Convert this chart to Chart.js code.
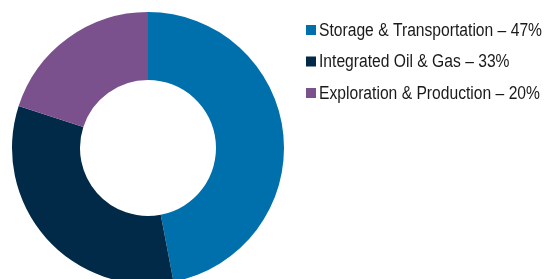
<!DOCTYPE html>
<html>
<head>
<meta charset="utf-8">
<script src="https://cdn.jsdelivr.net/npm/chart.js@4/dist/chart.umd.min.js"></script>
<style>
  html, body { margin: 0; padding: 0; background: #fff; overflow: hidden; }
  #wrap { position: relative; width: 548px; height: 296px; }
</style>
</head>
<body>
<div id="wrap"><canvas id="c" width="548" height="296"></canvas></div>
<script>
const categories = ["Storage & Transportation", "Integrated Oil & Gas", "Exploration & Production"];
const shares = [47, 33, 20];
const colors = ["#0070ad", "#002a47", "#7b518d"];

const legendPlugin = {
  id: 'sideLegend',
  afterDraw(chart) {
    const ctx = chart.ctx;
    ctx.save();
    ctx.font = '18px "Liberation Sans", Arial, sans-serif';
    ctx.textBaseline = 'middle';
    ctx.textAlign = 'left';
    const x0 = 306, y0 = 30, step = 31.5, box = 10;
    const texts = categories.map((c, i) => c + ' \u2013 ' + shares[i] + '%');
    const sx = 223 / ctx.measureText(texts[0]).width;
    texts.forEach((t, i) => {
      const cy = y0 + i * step;
      ctx.fillStyle = colors[i];
      ctx.fillRect(x0, cy - box / 2, box, box);
      ctx.fillStyle = '#1a1a1a';
      ctx.save();
      ctx.translate(x0 + box + 3, cy + 1);
      ctx.scale(sx, 1);
      ctx.fillText(t, 0, 0);
      ctx.restore();
    });
    ctx.restore();
  }
};

new Chart(document.getElementById('c'), {
  type: 'doughnut',
  data: {
    labels: categories,
    datasets: [{
      data: shares,
      backgroundColor: colors,
      borderWidth: 0,
      hoverOffset: 0
    }]
  },
  options: {
    responsive: false,
    animation: false,
    cutout: '50%',
    layout: { padding: { left: 12, top: 12, right: 264, bottom: 12 } },
    plugins: { legend: { display: false }, tooltip: { enabled: false } }
  },
  plugins: [legendPlugin]
});
</script>
</body>
</html>
